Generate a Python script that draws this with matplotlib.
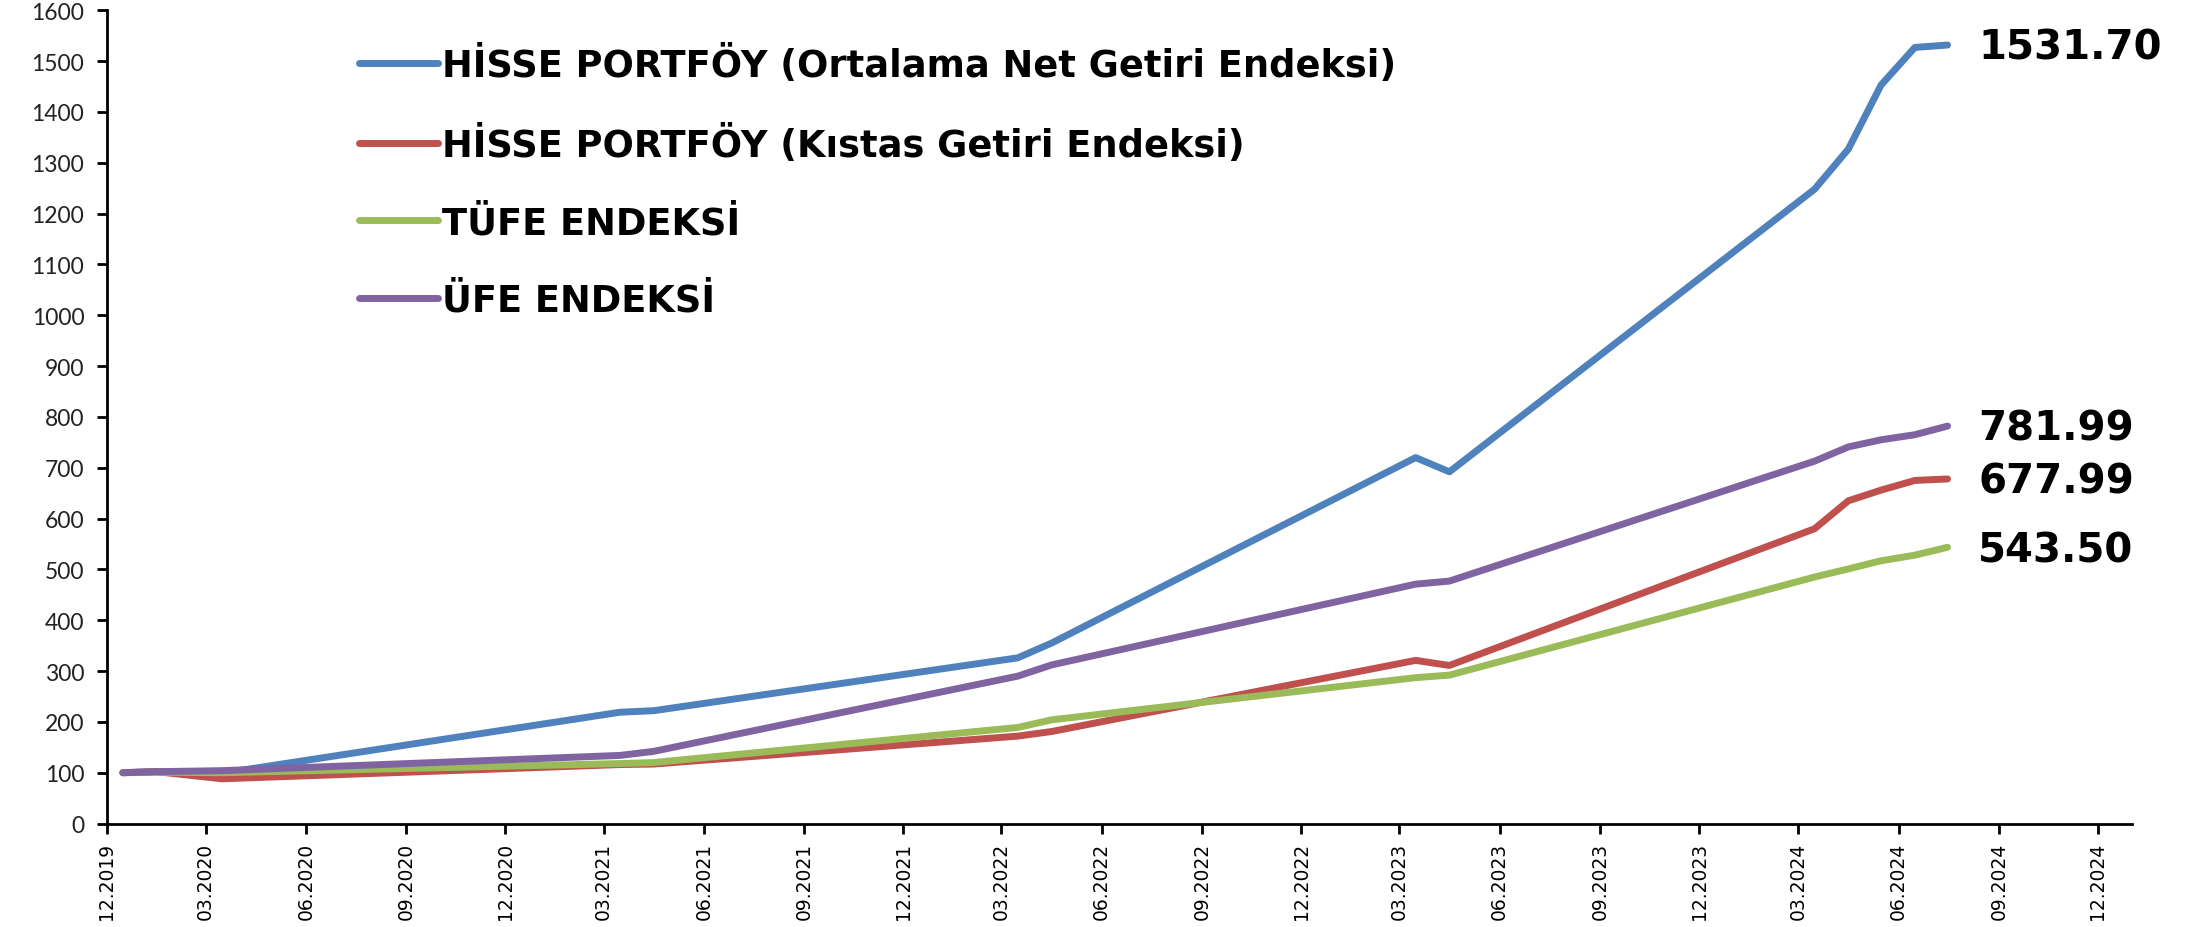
import matplotlib
matplotlib.use("Agg")
import matplotlib.pyplot as plt
import matplotlib.dates as mdates
import pandas as pd

# month-end observations (plotted mid-month, like the Excel date axis)
dates = ["2019-12", "2020-01", "2020-03", "2021-03", "2021-04", "2022-03", "2022-04",
         "2023-03", "2023-04", "2024-03", "2024-04", "2024-05", "2024-06", "2024-07"]
hisse_net = [100, 102, 99, 219, 222, 326, 355, 720, 692, 1248, 1327, 1453, 1527, 1531.70]
hisse_kistas = [100, 102, 88, 116, 117, 172, 181, 321, 311, 580, 635, 656, 675, 677.99]
tufe = [100, 101, 100, 118, 120, 189, 204, 287, 292, 485, 501, 517, 528, 543.50]
ufe = [100, 102, 104, 134, 142, 290, 312, 471, 477, 713, 741, 755, 765, 781.99]

series_labels = ["HİSSE PORTFÖY (Ortalama Net Getiri Endeksi)",
                 "HİSSE PORTFÖY (Kıstas Getiri Endeksi)",
                 "TÜFE ENDEKSİ",
                 "ÜFE ENDEKSİ"]
colors = ["#4F81BD", "#C0504D", "#9BBB59", "#8064A2"]

x = pd.to_datetime(dates) + pd.Timedelta(days=15)

fig = plt.figure(figsize=(22.1, 9.28), dpi=100)
ax = fig.add_axes([0.0482, 0.1115, 0.9164, 0.8763])

for vals, lab, col in zip([hisse_net, hisse_kistas, tufe, ufe], series_labels, colors):
    ax.plot(x, vals, color=col, lw=5, label=lab, solid_capstyle="round", solid_joinstyle="round")
    ax.annotate(f"{vals[-1]:.2f}", xy=(x[-1], vals[-1]), xytext=(22, -2), textcoords="offset points",
                va="center", ha="left", fontsize=29, fontweight="bold", family="DejaVu Sans", color="black")

ax.set_xlim(pd.Timestamp("2019-12-01"), pd.Timestamp("2025-01-01"))
ax.set_ylim(0, 1600)
ax.set_yticks(range(0, 1601, 100))
ax.xaxis.set_major_locator(mdates.MonthLocator(bymonth=[3, 6, 9, 12]))
ax.xaxis.set_major_formatter(mdates.DateFormatter("%m.%Y"))

for s in ["top", "right"]:
    ax.spines[s].set_visible(False)
for s in ["left", "bottom"]:
    ax.spines[s].set_linewidth(2)

ax.tick_params(axis="y", length=7, width=2, pad=9, labelsize=16.5, labelcolor="#222222")
ax.tick_params(axis="x", length=7, width=2, pad=6, labelsize=13.5, rotation=90)
for t in ax.get_yticklabels():
    t.set_family(["Lato", "DejaVu Sans"])
for t in ax.get_xticklabels():
    t.set_family("DejaVu Sans")

leg = ax.legend(loc="upper left", bbox_to_anchor=(0.1247, 0.957), frameon=False,
                borderaxespad=0, borderpad=0, handlelength=2.15, handletextpad=0.1,
                labelspacing=1.1, prop={"family": "DejaVu Sans", "weight": "bold", "size": 26.5})

fig.savefig("out.png", dpi=100)
